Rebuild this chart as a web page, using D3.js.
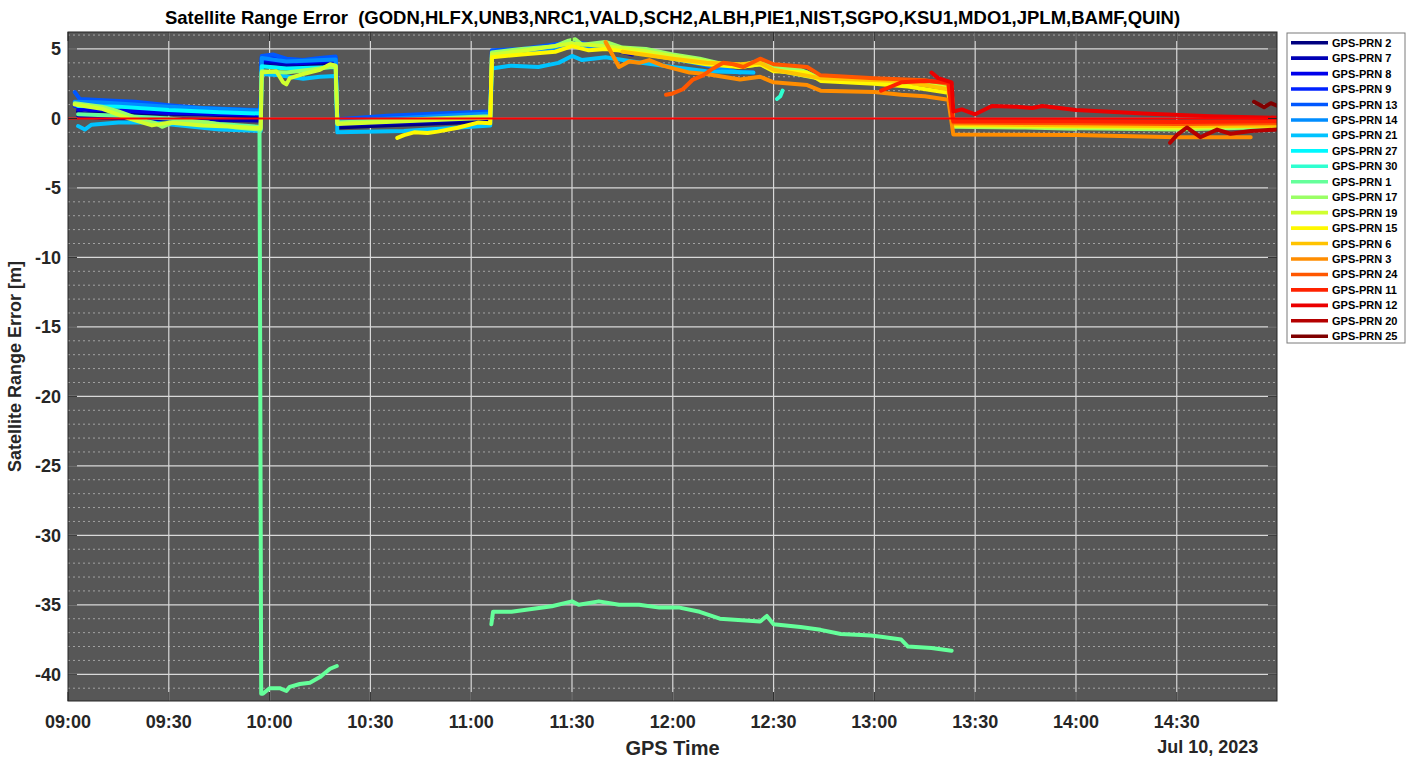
<!DOCTYPE html>
<html>
<head>
<meta charset="utf-8">
<script src="https://cdn.jsdelivr.net/npm/d3@7"></script>
<style>
  body { margin: 0; background: #fff; }
  text { font-family: "Liberation Sans", Arial, sans-serif; }
</style>
</head>
<body>
<div id="chart"></div>
<script>
// PRN order as in the legend
const prnNames = ["2", "7", "8", "9", "13", "14", "21", "27", "30", "1", "17", "19", "15", "6", "3", "24", "11", "12", "20", "25"];

// [GPS time, range error in m]; null marks a gap
const prn2 = [["09:03",0.5],["09:05",0.3],["09:08",0.55],["09:15",0.45],["09:25",0.35],["09:40",0.3],["09:50",0.2],["09:57:20",0.15],
  ["09:57:40",4.0],["10:02",3.95],["10:06",3.8],["10:12",3.9],["10:19:40",3.95],
  ["10:20:10",-0.65],["10:30",-0.55],["10:45",-0.4],["11:00",-0.25],["11:05",-0.2]];
const prn7 = [["09:03",0.2],["09:10",0.05],["09:30",-0.05],["09:57:20",-0.15],
  ["09:57:40",4.1],["10:05",3.9],["10:12",4.0],["10:19:40",4.1],
  ["10:20:10",-0.45],["10:40",-0.3],["11:05:40",0.0],
  ["11:06:10",4.7],["11:15",4.9],["11:30",5.3],["11:40",5.1],["11:48",4.6]];
const prn8 = [["09:03",0.65],["09:12",0.6],["09:30",0.4],["09:57:20",0.25],
  ["09:57:40",4.2],["10:04",4.1],["10:10",4.0],["10:19:40",4.2],
  ["10:20:10",-0.3],["10:45",0.0],["11:05:40",0.3],
  ["11:06:10",4.8],["11:20",5.0],["11:30",5.4],["11:45",5.0],["11:55",4.6],["12:05",4.2]];
const prn9 = [["09:02",0.9],["09:10",1.0],["09:25",0.75],["09:45",0.6],["09:57:20",0.5],
  ["09:57:40",4.4],["10:03",4.3],["10:08",4.1],["10:15",4.2],["10:19:40",4.3],
  ["10:20:10",-0.1],["10:40",0.15],["11:05:40",0.4]];
const prn13 = [["09:02",1.9],["09:03:30",1.4],["09:12",1.3],["09:20",1.2],["09:30",0.95],["09:40",0.75],["09:57:20",0.6],
  ["09:57:40",4.5],["10:01",4.6],["10:05",4.3],["10:10",4.2],["10:15",4.35],["10:19:40",4.45],
  ["10:20:10",-0.05],["10:35",0.2],["10:50",0.35],["11:05:40",0.5],
  ["11:06:10",4.9],["11:15",5.0],["11:30",5.5],["11:40",5.2],["11:50",4.8],["12:00",4.4],["12:10",3.8],["12:18",3.35],["12:24",3.3]];
const prn14 = [["09:02",1.2],["09:10",1.15],["09:30",0.85],["09:57:20",0.55],
  ["09:57:40",4.35],["10:05",4.1],["10:19:40",4.25],
  ["10:20:10",-0.2],["11:05:40",0.35],
  ["11:06:10",4.6],["11:20",4.8],["11:30",5.3],["11:45",4.9],["12:00",4.3],["12:15",3.6],["12:20",3.3]];
const prn21 = [["09:03",-0.55],["09:05",-0.8],["09:07",-0.45],["09:15",-0.3],["09:25",-0.3],["09:35",-0.55],["09:45",-0.8],["09:57:20",-0.9],
  ["09:57:40",3.2],["10:03",3.1],["10:10",2.85],["10:15",3.0],["10:19:40",3.05],
  ["10:20:10",-1.0],["10:40",-0.9],["11:00",-0.6],["11:05:40",-0.5],
  ["11:06:10",3.6],["11:12",3.8],["11:20",3.7],["11:26",4.0],["11:30",4.5],["11:33",4.2],["11:40",4.4],["11:48",4.1],["12:00",3.7],["12:10",3.4],["12:24",3.3]];
const prn27 = [["09:03",0.9],["09:15",0.85],["09:30",0.6],["09:45",0.45],["09:57:20",0.35],
  ["09:57:40",3.75],["10:05",3.6],["10:19:40",3.7],
  ["10:20:10",-0.35],["11:05:40",0.1]];
const prn30 = [["12:31",1.4],["12:32",1.6],["12:32:40",2.0]];
const prn1 = [["09:03",0.3],["09:15",0.2],["09:30",0.0],["09:45",-0.4],["09:57",-0.6],
  ["09:57:30",-41.4],["09:58",-41.4],["10:00",-41.0],["10:03",-41.0],["10:05",-41.2],["10:06",-40.9],["10:09",-40.7],
  ["10:12",-40.6],["10:15",-40.2],["10:16",-40.0],["10:18",-39.6],["10:20",-39.4],["10:21",null],
  ["11:06",-36.4],["11:06:30",-35.5],["11:12",-35.5],["11:18",-35.3],["11:24",-35.1],["11:30",-34.75],["11:32",-35.0],
  ["11:38",-34.75],["11:44",-35.0],["11:50",-35.0],["11:56",-35.2],["12:02",-35.2],["12:08",-35.5],["12:14",-36.0],
  ["12:26",-36.2],["12:28",-35.8],["12:30",-36.4],["12:38",-36.6],["12:44",-36.8],["12:50",-37.1],["12:59",-37.2],
  ["13:02",-37.3],["13:08",-37.5],["13:10",-38.0],["13:17",-38.1],["13:23",-38.3]];
const prn17 = [["09:02",1.1],["09:10",0.85],["09:15",0.5],["09:22",-0.1],["09:26",-0.35],["09:28",-0.6],["09:31",-0.3],["09:35",-0.2],["09:42",-0.3],["09:50",-0.65],["09:57:20",-0.8],
  ["09:57:40",3.4],["10:05",3.3],["10:12",3.5],["10:19:40",3.75],
  ["10:20:10",-0.3],["10:40",-0.1],["11:05:40",0.15],
  ["11:06:10",4.75],["11:15",5.0],["11:25",5.2],["11:29",5.6],["11:31",5.7],["11:33",5.3],["11:40",5.5],["11:45",5.1],["11:52",5.0],
  ["12:00",4.6],["12:08",4.3],["12:15",3.9],["12:20",3.8],["12:25",4.1],["12:30",3.7],["12:38",3.5],["12:44",2.9],["12:55",2.8],["13:08",2.7],["13:15",2.6],["13:23",2.3],
  ["13:23:30",-0.6],["13:45",-0.65],["14:00",-0.75],["14:00:30",-0.4],["14:01",-0.7],["14:30",-0.8],["15:00",-0.6]];
const prn19 = [["09:02",1.0],["09:10",0.7],["09:18",0.0],["09:25",-0.5],["09:30",-0.3],["09:40",-0.5],["09:50",-0.6],["09:57:20",-0.7],
  ["09:57:40",3.3],["10:02",3.4],["10:04",2.6],["10:05",2.45],["10:06",2.9],["10:10",3.2],["10:15",3.5],["10:18",3.9],["10:19:40",3.8],
  ["10:20:10",-0.4],["10:40",-0.2],["11:05:40",0.05],
  ["11:06:10",4.6],["11:15",4.85],["11:30",5.4],["11:40",5.2],["11:50",4.9],["12:00",4.5],["12:10",4.1],["12:20",3.7],["12:26",3.9],["12:30",3.5],["12:44",2.85],["13:08",2.6],["13:23",2.2],
  ["13:23:30",-0.55],["14:00",-0.6],["14:30",-0.7],["15:00",-0.5]];
const prn15 = [["10:38",-1.4],["10:40",-1.2],["10:43",-1.0],["10:47",-1.05],["10:50",-0.95],["10:56",-0.67],["11:02",-0.3],["11:05:40",-0.35],
  ["11:06:10",4.4],["11:15",4.6],["11:25",4.8],["11:30",5.2],["11:35",4.9],["11:40",5.0],["11:50",4.7],["12:00",4.3],["12:10",3.9],["12:20",3.7],
  ["12:26",3.9],["12:30",3.4],["12:40",3.3],["12:44",2.7],["13:00",2.5],["13:10",2.3],["13:22",1.85],
  ["13:23:30",-0.45],["14:00",-0.55],["14:30",-0.6],["15:00",-0.5]];
const prn6 = [["11:45",4.8],["12:00",4.3],["12:10",4.0],["12:20",3.9],["12:26",4.0],["12:30",3.5],["12:44",2.9],["13:08",2.7],["13:22",2.1],
  ["13:23:30",-0.4],["14:00",-0.5],["14:30",-0.55],["15:00",-0.5]];
const prn3 = [["11:40",5.5],["11:42",4.6],["11:44",3.7],["11:47",4.1],["11:50",4.0],["11:53",4.2],["11:57",3.8],["12:05",3.3],["12:10",3.2],
  ["12:20",2.8],["12:26",3.0],["12:30",2.6],["12:40",2.4],["12:44",2.0],["13:00",1.9],["13:08",1.7],["13:15",1.6],["13:22",1.35],
  ["13:23:30",-1.15],["14:00",-1.2],["14:30",-1.35],["14:52",-1.35]];
const prn24 = [["11:58",1.7],["12:00",1.8],["12:03",2.1],["12:06",2.8],["12:09",3.1],["12:12",3.6],["12:15",4.0],["12:18",3.9],["12:21",3.7],
  ["12:26",4.3],["12:30",3.9],["12:40",3.7],["12:44",3.1],["13:00",2.9],["13:15",2.75],["13:22",2.5],
  ["13:23:30",-0.3],["14:00",-0.35],["14:30",-0.4],["15:00",-0.35]];
const prn11 = [["13:02",2.0],["13:05",2.3],["13:08",2.6],["13:15",2.7],["13:22",2.6],
  ["13:23:30",-0.2],["14:00",-0.2],["14:30",-0.25],["15:00",-0.2]];
const prn12 = [["13:17",3.3],["13:19",2.9],["13:23",2.6],["13:23:30",0.5],["13:26",0.65],["13:30",0.3],["13:35",0.9],["13:42",0.85],
  ["13:47",0.75],["13:50",0.9],["14:00",0.6],["14:20",0.35],["14:40",0.15],["15:00",0.05]];
const prn20 = [["14:28",-1.75],["14:30",-1.2],["14:33",-0.65],["14:37",-1.35],["14:42",-0.8],["14:46",-1.1],["14:52",-0.9],["15:00",-0.8]];
const prn25 = [["14:53",1.2],["14:56",0.8],["14:58",1.1],["15:00",0.9]];

const seriesData = { "2": prn2, "7": prn7, "8": prn8, "9": prn9, "13": prn13, "14": prn14, "21": prn21, "27": prn27, "30": prn30,
  "1": prn1, "17": prn17, "19": prn19, "15": prn15, "6": prn6, "3": prn3, "24": prn24, "11": prn11, "12": prn12, "20": prn20, "25": prn25 };

const stations = "GODN,HLFX,UNB3,NRC1,VALD,SCH2,ALBH,PIE1,NIST,SGPO,KSU1,MDO1,JPLM,BAMF,QUIN";
const xTickLabels = ["09:00", "09:30", "10:00", "10:30", "11:00", "11:30", "12:00", "12:30", "13:00", "13:30", "14:00", "14:30"];
const yTicks = [5, 0, -5, -10, -15, -20, -25, -30, -35, -40];

// MATLAB-style jet colours
function jet(t) {
    const c = v => Math.max(0, Math.min(1, v));
    return d3.rgb(255 * c(1.5 - Math.abs(4 * t - 3)), 255 * c(1.5 - Math.abs(4 * t - 2)), 255 * c(1.5 - Math.abs(4 * t - 1))).formatHex();
}

const W = 1406, H = 758;
const margin = { top: 32, right: 129, bottom: 57, left: 68 };
const width = W - margin.left - margin.right,
    height = H - margin.top - margin.bottom;

const day = "2023-07-10 ";
const parseA = d3.timeParse("%Y-%m-%d %H:%M"), parseB = d3.timeParse("%Y-%m-%d %H:%M:%S");
const parseT = s => (s.length > 5 ? parseB(day + s) : parseA(day + s));

const svg = d3.select("#chart").append("svg")
    .attr("width", W)
    .attr("height", H);

const g = svg.append("g").attr("transform", `translate(${margin.left},${margin.top})`);

const x = d3.scaleTime()
    .domain([parseT("09:00"), parseT("14:59:50")])
    .range([0, width]);
const y = d3.scaleLinear()
    .domain([-41.92, 6.22])
    .range([height, 0]);

g.append("rect").attr("width", width).attr("height", height).attr("fill", "#575757");

// minor grid (1 m)
g.append("g").selectAll("line")
    .data(d3.range(-41, 7).filter(v => v % 5 !== 0))
    .enter().append("line")
    .attr("x1", 0).attr("x2", width)
    .attr("y1", d => y(d)).attr("y2", d => y(d))
    .attr("stroke", "#bdbdbd").attr("stroke-width", 1).attr("stroke-dasharray", "2,3").attr("opacity", 0.75);

// major grid
g.append("g").selectAll("line")
    .data(yTicks)
    .enter().append("line")
    .attr("x1", 0).attr("x2", width)
    .attr("y1", d => y(d)).attr("y2", d => y(d))
    .attr("stroke", "#d9d9d9").attr("stroke-width", 1.2);
g.append("g").selectAll("line")
    .data(xTickLabels.slice(1))
    .enter().append("line")
    .attr("x1", d => x(parseT(d))).attr("x2", d => x(parseT(d)))
    .attr("y1", 0).attr("y2", height)
    .attr("stroke", "#d9d9d9").attr("stroke-width", 1.2);

svg.append("defs").append("clipPath").attr("id", "clip")
    .append("rect").attr("width", width).attr("height", height);

const line = d3.line()
    .defined(d => d[1] !== null)
    .x(d => x(parseT(d[0])))
    .y(d => y(d[1]));

const lines = g.append("g").attr("clip-path", "url(#clip)");
prnNames.forEach((p, i) => {
    lines.append("path")
        .datum(seriesData[p])
        .attr("d", line)
        .attr("fill", "none")
        .attr("stroke", jet(i / (prnNames.length - 1)))
        .attr("stroke-width", 4)
        .attr("stroke-linejoin", "round")
        .attr("stroke-linecap", "round");
});

// zero line
g.append("line")
    .attr("x1", 0).attr("x2", width)
    .attr("y1", y(0)).attr("y2", y(0))
    .attr("stroke", "#ff0000").attr("stroke-width", 2);

// axes: ticks drawn inward, MATLAB style
const tickLen = 9;
const axisG = g.append("g").attr("stroke", "#262626").attr("stroke-width", 1);
xTickLabels.forEach(t => {
    const px = x(parseT(t));
    axisG.append("line").attr("x1", px).attr("x2", px).attr("y1", height).attr("y2", height - tickLen);
    axisG.append("line").attr("x1", px).attr("x2", px).attr("y1", 0).attr("y2", tickLen);
});
yTicks.forEach(v => {
    axisG.append("line").attr("x1", 0).attr("x2", tickLen).attr("y1", y(v)).attr("y2", y(v));
    axisG.append("line").attr("x1", width).attr("x2", width - tickLen).attr("y1", y(v)).attr("y2", y(v));
});
g.append("rect").attr("width", width).attr("height", height)
    .attr("fill", "none").attr("stroke", "#262626").attr("stroke-width", 1);

g.append("g").selectAll("text")
    .data(xTickLabels)
    .enter().append("text")
    .attr("x", d => x(parseT(d)))
    .attr("y", height + 27)
    .attr("text-anchor", "middle")
    .style("font-size", "18px").style("font-weight", "bold").attr("fill", "#262626")
    .text(d => d);

g.append("g").selectAll("text")
    .data(yTicks)
    .enter().append("text")
    .attr("x", -7)
    .attr("y", d => y(d) + 6.5)
    .attr("text-anchor", "end")
    .style("font-size", "18px").style("font-weight", "bold").attr("fill", "#262626")
    .text(d => d);

g.append("text")
    .attr("x", x(parseT("14:30")) + 31)
    .attr("y", height + 52)
    .attr("text-anchor", "middle")
    .style("font-size", "18px").style("font-weight", "bold").attr("fill", "#262626")
    .text("Jul 10, 2023");

g.append("text")
    .attr("x", width / 2)
    .attr("y", height + 54)
    .attr("text-anchor", "middle")
    .style("font-size", "20px").style("font-weight", "bold").attr("fill", "#262626")
    .text("GPS Time");

g.append("text")
    .attr("transform", `translate(${-47},${height / 2}) rotate(-90)`)
    .attr("text-anchor", "middle")
    .style("font-size", "18px").style("font-weight", "bold").attr("fill", "#262626")
    .text("Satellite Range Error [m]");

svg.append("text")
    .attr("x", margin.left + width / 2)
    .attr("y", 24)
    .attr("text-anchor", "middle")
    .style("font-size", "18.5px").style("font-weight", "bold").style("white-space", "pre").attr("fill", "#000")
    .text(`Satellite Range Error  (${stations})`);

// legend
const leg = svg.append("g").attr("transform", "translate(1287,33)");
leg.append("rect").attr("width", 118).attr("height", 310)
    .attr("fill", "#fff").attr("stroke", "#7a7a7a").attr("stroke-width", 1);
prnNames.forEach((p, i) => {
    const ly = 9.7 + i * 15.45;
    leg.append("line").attr("x1", 4).attr("x2", 41).attr("y1", ly).attr("y2", ly)
        .attr("stroke", jet(i / (prnNames.length - 1))).attr("stroke-width", 3.6);
    leg.append("text").attr("x", 45).attr("y", ly + 4)
        .style("font-size", "11px").style("font-weight", "bold").attr("fill", "#000")
        .text(`GPS-PRN ${p}`);
});
</script>
</body>
</html>
